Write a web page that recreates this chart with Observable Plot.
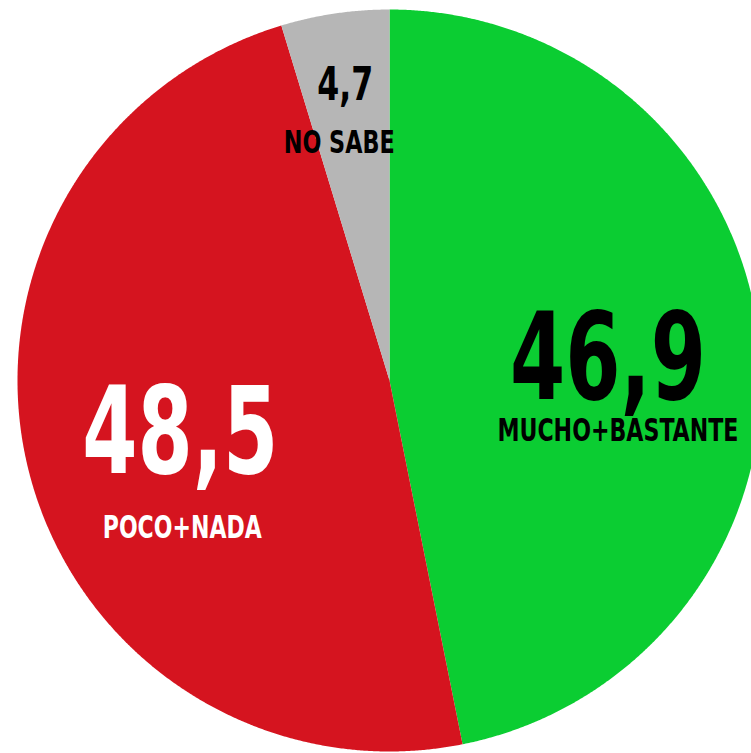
<!DOCTYPE html>
<html>
<head>
<meta charset="utf-8">
<script src="https://cdn.jsdelivr.net/npm/d3@7"></script>
<script src="https://cdn.jsdelivr.net/npm/@observablehq/plot@0.6"></script>
<style>
  html, body { margin: 0; padding: 0; background: #ffffff; overflow: hidden; }
  #chart svg { display: block; }
</style>
</head>
<body>
<div id="chart"></div>
<script>
// ---- data ----
const categories = ["MUCHO+BASTANTE", "POCO+NADA", "NO SABE"];
const values = [46.9, 48.5, 4.7];
const valueLabels = ["46,9", "48,5", "4,7"];

// ---- style / layout (not data) ----
const colors = ["#0bcd32", "#d5141f", "#b6b6b6"];
const W = 751, H = 753;
const cx = 389, cy = 380, rx = 372, ry = 371;
const font = "'Liberation Sans Narrow', 'Arial Narrow', 'DejaVu Sans Condensed', sans-serif";
const layout = {
  "MUCHO+BASTANTE": {r: 0.59, numDy: 40, nameDx: 10, nameDy: 82, numSize: 122, nameSize: 32, numColor: "#000", nameColor: "#000", numLen: 196, nameLen: 241},
  "POCO+NADA":      {r: 0.58, numDy: 40, nameDx: 2,  nameDy: 105, numSize: 122, nameSize: 32, numColor: "#fff", nameColor: "#fff", numLen: 196, nameLen: 159},
  "NO SABE":        {r: 0.81, numDy: 17, nameDx: -6, nameDy: 70, numSize: 46, nameSize: 32, numColor: "#000", nameColor: "#000", numLen: 56, nameLen: 111}
};

// ---- build slices ----
const arcs = d3.pie().sort(null).value(d => d)(values);
const slicePts = [];
arcs.forEach((a, i) => {
  const cat = categories[i];
  slicePts.push({cat, x: 0, y: 0});
  const n = Math.max(8, Math.ceil((a.endAngle - a.startAngle) / (Math.PI / 720)));
  for (let k = 0; k <= n; k++) {
    const t = a.startAngle + (a.endAngle - a.startAngle) * k / n;
    slicePts.push({cat, x: Math.sin(t), y: Math.cos(t)});
  }
  slicePts.push({cat, x: 0, y: 0});
});

const labelRows = arcs.map((a, i) => {
  const cat = categories[i];
  const L = layout[cat];
  const m = (a.startAngle + a.endAngle) / 2;
  return {cat, label: valueLabels[i], x: L.r * Math.sin(m), y: L.r * Math.cos(m), L};
});

const marks = [
  Plot.line(slicePts, {x: "x", y: "y", z: "cat", fill: "cat", stroke: "none", curve: "linear"})
];
labelRows.forEach((d) => {
  marks.push(Plot.text([d], {
    x: "x", y: "y", text: "label", dy: d.L.numDy, lineAnchor: "bottom", textAnchor: "middle",
    fontSize: d.L.numSize, fontWeight: "bold", fontFamily: font, fill: d.L.numColor
  }));
  marks.push(Plot.text([d], {
    x: "x", y: "y", text: "cat", dx: d.L.nameDx, dy: d.L.nameDy, lineAnchor: "bottom", textAnchor: "middle",
    fontSize: d.L.nameSize, fontWeight: "bold", fontFamily: font, fill: d.L.nameColor
  }));
});

const plot = Plot.plot({
  width: W,
  height: H,
  margin: 0,
  x: {axis: null, domain: [(0 - cx) / rx, (W - cx) / rx], range: [0, W]},
  y: {axis: null, domain: [(cy - H) / ry, cy / ry], range: [H, 0]},
  color: {domain: categories, range: colors},
  style: {background: "#ffffff", overflow: "hidden"},
  marks
});

// squeeze labels to the condensed widths of the original typeface
const texts = plot.querySelectorAll("text");
labelRows.forEach((d, i) => {
  const num = texts[2 * i], name = texts[2 * i + 1];
  if (num) { num.setAttribute("textLength", d.L.numLen); num.setAttribute("lengthAdjust", "spacingAndGlyphs"); }
  if (name) { name.setAttribute("textLength", d.L.nameLen); name.setAttribute("lengthAdjust", "spacingAndGlyphs"); }
});

document.getElementById("chart").appendChild(plot);
</script>
</body>
</html>
